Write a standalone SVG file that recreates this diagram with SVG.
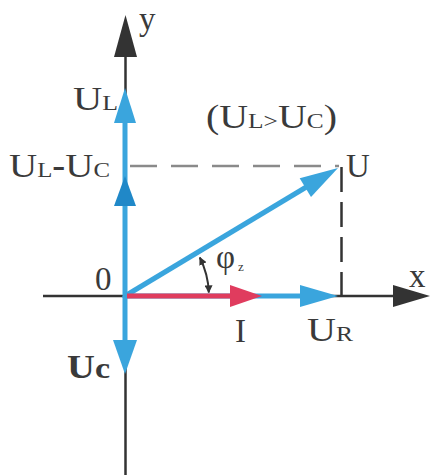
<svg xmlns="http://www.w3.org/2000/svg" width="431" height="475" viewBox="0 0 431 475">
<defs>
<style>
.lbl{font-family:"Liberation Serif","Times New Roman",serif;font-size:33px;fill:#3a3a3a}
.sm{font-size:21px}
.ax{stroke:#333;stroke-width:2.5;fill:none}
.blue{stroke:#3aa5dd;stroke-width:5;fill:none}
.bluef{fill:#3aa5dd}
.red{stroke:#e03c5e;stroke-width:5;fill:none}
.redf{fill:#e03c5e}
.dash{fill:none;stroke-width:2.5}
</style>
<marker id="ah" viewBox="0 0 10 10" refX="9" refY="5" markerWidth="4" markerHeight="4" orient="auto-start-reverse">
<path d="M0,0 L10,5 L0,10 Z" fill="#333"/>
</marker>
</defs>
<rect width="431" height="475" fill="#fff"/>
<g id="axes">
<line class="ax" x1="43" y1="296" x2="396" y2="296"/>
<path d="M430,296 L393,285 L393,307 Z" fill="#333"/>
<line class="ax" x1="125.5" y1="55" x2="125.5" y2="475"/>
<path d="M125.5,15 L114,57 L137,57 Z" fill="#333"/>
<line class="dash" stroke="#8a8a8a" x1="130" y1="166" x2="339" y2="166" stroke-dasharray="27 14"/>
<line class="dash" stroke="#333" stroke-width="2" x1="341.5" y1="167" x2="341.5" y2="296" stroke-dasharray="25 10"/>
</g>
<g id="connectors">
<g id="UL">
<line class="blue" x1="125" y1="298" x2="125" y2="120"/>
<path class="bluef" d="M125,88 L114,123 L136,123 Z"/>
</g>
<g id="UL-UC">
<path fill="#2088c8" d="M125,176 L114,206 L136,206 Z"/>
</g>
<g id="UC">
<line class="blue" x1="125" y1="296" x2="125" y2="342"/>
<path class="bluef" d="M125,374 L113,340 L137,340 Z"/>
</g>
<g id="U">
<line class="blue" stroke-width="4.5" x1="125" y1="296" x2="308" y2="186"/>
<path class="bluef" d="M338,168 L311,197 L299.7,178.2 Z"/>
</g>
<g id="UR">
<line class="blue" x1="125" y1="296" x2="302" y2="296"/>
<path class="bluef" d="M338,296 L300,285 L300,307 Z"/>
</g>
<g id="I">
<line class="red" x1="127" y1="296" x2="233" y2="296"/>
<path class="redf" d="M262,296 L230,285 L230,307 Z"/>
</g>
<g id="phi">
<path d="M208.8,292.5 A84,84 0 0 0 199.8,257.5" fill="none" stroke="#333" stroke-width="2" marker-start="url(#ah)" marker-end="url(#ah)"/>
</g>
</g>
<g id="labels">
<text class="lbl" x="139" y="30">y</text>
<text class="lbl" x="73" y="110" textLength="45" lengthAdjust="spacingAndGlyphs">U<tspan class="sm">L</tspan></text>
<text class="lbl" x="206" y="128" textLength="131" lengthAdjust="spacingAndGlyphs">(U<tspan class="sm">L</tspan><tspan class="sm">&gt;</tspan>U<tspan class="sm">C</tspan>)</text>
<text class="lbl" x="9" y="177" textLength="101" lengthAdjust="spacingAndGlyphs">U<tspan class="sm">L</tspan><tspan font-weight="bold">-</tspan>U<tspan class="sm">C</tspan></text>
<text class="lbl" x="346" y="177">U</text>
<text class="lbl" x="95" y="290">0</text>
<text class="lbl" x="409" y="287">x</text>
<text class="lbl" x="235" y="342">I</text>
<text class="lbl" x="307" y="341" textLength="46" lengthAdjust="spacingAndGlyphs">U<tspan class="sm" font-size="22">R</tspan></text>
<text class="lbl" x="67" y="378" font-weight="bold" fill="#222" textLength="43" lengthAdjust="spacingAndGlyphs">U<tspan font-size="29">c</tspan></text>
<text class="lbl" x="216" y="268" font-size="30">φ<tspan font-size="13" dx="3" dy="3">z</tspan></text>
</g>
</svg>
